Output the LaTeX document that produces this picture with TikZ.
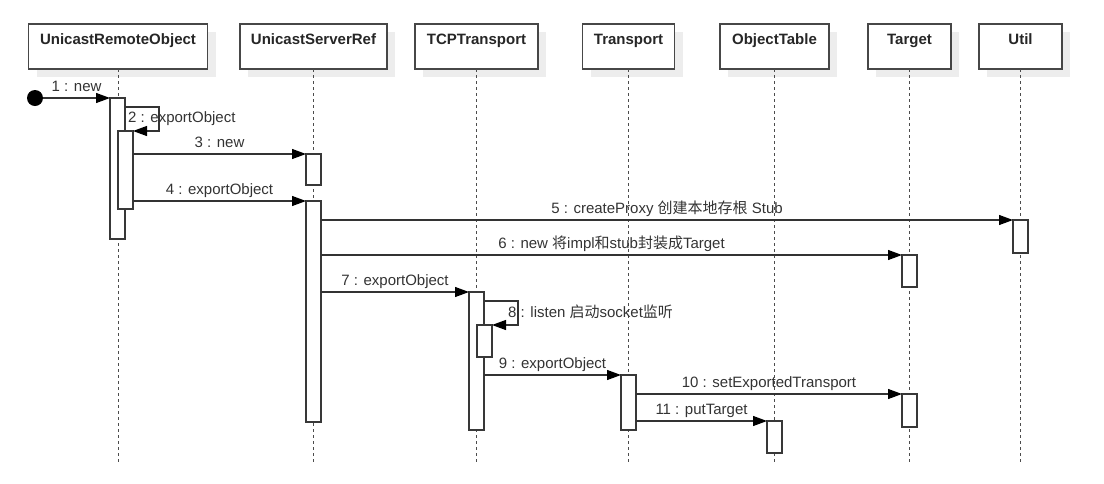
\documentclass[tikz,border=0pt]{standalone}
\usepackage{fontspec}
\setmainfont{Liberation Sans}
\newfontfamily\cjk{Noto Sans CJK SC}
\usetikzlibrary{arrows.meta,shadows,calc}
\begin{document}
\begin{tikzpicture}[x=1pt,y=-1pt,
  head/.style={draw=black!72, line width=1.3pt, fill=white, inner sep=0pt, outer sep=0pt,
    text height=20pt, text depth=25pt, anchor=north, font=\fontsize{15}{18}\selectfont\bfseries,
    text=black!85, drop shadow={shadow xshift=8pt, shadow yshift=-8pt, fill=black!7, opacity=1}},
  life/.style={draw=black!70, line width=1pt, dash pattern=on 3pt off 3pt},
  act/.style={draw=black!78, fill=white, line width=1.3pt, inner sep=0pt, outer sep=0pt,
    minimum width=15pt, anchor=north west},
  msg/.style={draw=black!80, line width=1.1pt, -{Triangle[length=14pt,width=10pt,color=black]}},
  lbl/.style={font=\fontsize{15}{18}\selectfont, text=black!80, inner sep=0pt},
  mlbl/.style={lbl, midway, anchor=base, yshift=6.5pt}]
\useasboundingbox (0,0) rectangle (1104,483);

% headers
\node[head, minimum width=179pt] (h1) at (118,24) {UnicastRemoteObject};
\node[head, minimum width=147pt] (h2) at (313.5,24) {UnicastServerRef};
\node[head, minimum width=123pt] (h3) at (476.5,24) {TCPTransport};
\node[head, minimum width=92pt] (h4) at (628.5,24) {Transport};
\node[head, minimum width=109pt] (h5) at (774.5,24) {ObjectTable};
\node[head, minimum width=83pt] (h6) at (909.5,24) {Target};
\node[head, minimum width=83pt] (h7) at (1020.5,24) {Util};

% lifelines
\foreach \h in {h1,h2,h3,h4,h5,h6,h7}
  \draw[life] (\h.south) -- (\h.south |- 0,462);

% activations
\node[act, minimum height=141pt] (a1) at (110,98) {};
\node[act, minimum height=78pt] (a2) at (118,131) {};
\node[act, minimum height=31pt] (b1) at (306,154) {};
\node[act, minimum height=221pt] (b2) at (306,201) {};
\node[act, minimum height=33pt] (u1) at (1013,220) {};
\node[act, minimum height=32pt] (t1) at (902,255) {};
\node[act, minimum height=138pt] (c1) at (469,292) {};
\node[act, minimum height=32pt] (c2) at (477,325) {};
\node[act, minimum height=55pt] (d1) at (621,375) {};
\node[act, minimum height=33pt] (t2) at (902,394) {};
\node[act, minimum height=32pt] (o1) at (767,421) {};

% start
\node[circle, fill=black, inner sep=0pt, minimum size=16pt] (s) at (35,98) {};

% messages
\draw[msg] (s) -- (a1.north west) node[mlbl] {1 : new};
\draw[msg] ([yshift=-9pt]a1.north east) -- ++(34,0) |- (a2.north east);
\node[lbl, anchor=base west] (l2) at (128,122) {2 : exportObject};
\draw[msg] (a2.east |- b1.north) -- (b1.north west) node[mlbl] {3 : new};
\draw[msg] (a2.east |- b2.north) -- (b2.north west) node[mlbl] {4 : exportObject};
\draw[msg] (b2.east |- u1.north) -- (u1.north west) node[mlbl] {5 : createProxy {\cjk 创建本地存根} Stub};
\draw[msg] (b2.east |- t1.north) -- (t1.north west) node[mlbl] {6 : new {\cjk 将}impl{\cjk 和}stub{\cjk 封装成}Target};
\draw[msg] (b2.east |- c1.north) -- (c1.north west) node[mlbl] {7 : exportObject};
\draw[msg] ([yshift=-9pt]c1.north east) -- ++(34,0) |- (c2.north east);
\node[lbl, anchor=base west] (l8) at (508,317) {8 : listen {\cjk 启动}socket{\cjk 监听}};
\draw[msg] (c1.east |- d1.north) -- (d1.north west) node[mlbl] {9 : exportObject};
\draw[msg] (d1.east |- t2.north) -- (t2.north west) node[mlbl] {10 : setExportedTransport};
\draw[msg] (d1.east |- o1.north) -- (o1.north west) node[mlbl] {11 : putTarget};
\end{tikzpicture}
\end{document}
